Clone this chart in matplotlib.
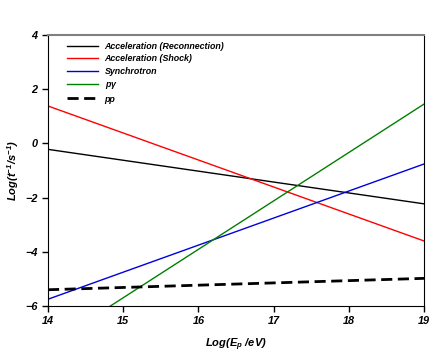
import matplotlib
matplotlib.use('Agg')
from matplotlib import pyplot as plt

plt.rcParams['font.family'] = ['Liberation Sans', 'DejaVu Sans']
plt.rcParams['mathtext.fontset'] = 'custom'
plt.rcParams['mathtext.rm'] = 'Liberation Sans:bold:italic'
plt.rcParams['mathtext.it'] = 'Liberation Sans:bold:italic'
plt.rcParams['mathtext.default'] = 'rm'

# endpoints
x_rec = [14, 19]; y_rec = [-0.22, -2.23]
x_shock = [14, 19]; y_shock = [1.38, -3.6]
x_syn = [14, 19]; y_syn = [-5.75, -0.76]
x_pg = [14.83, 19]; y_pg = [-6.0, 1.45]
x_pp = [14, 19]; y_pp = [-5.4, -4.98]

labels = ['Acceleration (Reconnection)', 'Acceleration (Shock)',
          'Synchrotron', r'p$\gamma$', 'pp']

fig = plt.figure(figsize=(4.43, 3.55), dpi=100)
ax = fig.add_axes([48/443, 1-306/355, 376/443, 271/355])

ax.plot(x_rec, y_rec, color='black', lw=1, label=labels[0])
ax.plot(x_shock, y_shock, color='red', lw=1, label=labels[1])
ax.plot(x_syn, y_syn, color='#0000dd', lw=1, label=labels[2])
ax.plot(x_pg, y_pg, color='#008000', lw=1, label=labels[3])
ax.plot(x_pp, y_pp, color='black', lw=2, ls=(0, (4, 2)), label=labels[4])

ax.set_xlim(14, 19)
ax.set_ylim(-6, 4)
ax.set_xticks([14, 15, 16, 17, 18, 19])
ax.set_yticks([-6, -4, -2, 0, 2, 4])
ax.tick_params(direction='out', length=4, width=1, labelsize=7.8, top=False, right=False)
for lab in ax.get_xticklabels() + ax.get_yticklabels():
    lab.set_fontweight('bold')
    lab.set_fontstyle('italic')
ax.spines['top'].set_color('gray')
ax.spines['top'].set_linewidth(1.5)

ax.set_xlabel(r'Log(E$_p$ /eV)', fontsize=8, fontweight='bold', fontstyle='italic', labelpad=7)
ax.set_ylabel(r'Log(t$^{-1}$/s$^{-1}$)', fontsize=8, fontweight='bold', fontstyle='italic', labelpad=3)

leg = ax.legend(loc='upper left', bbox_to_anchor=(0.03, 1.005), frameon=False,
                prop={'size': 6.4, 'weight': 'bold', 'style': 'italic'},
                handlelength=3.4, handletextpad=0.8, labelspacing=0.42)

fig.savefig('out.png', dpi=100)
